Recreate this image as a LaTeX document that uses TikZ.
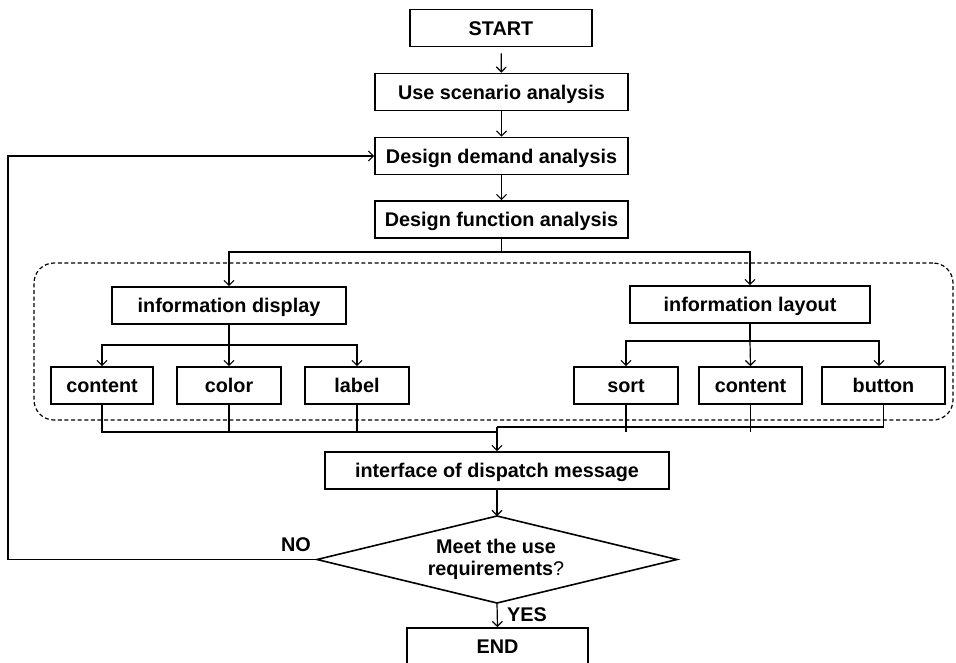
\documentclass[tikz,border=0pt]{standalone}
\usepackage{fontspec}
\setmainfont{Liberation Sans}
\usetikzlibrary{arrows.meta}

\begin{document}
\begin{tikzpicture}[x=1pt,y=-1pt,
  txt/.style={font=\bfseries\fontsize{19.8}{21.5}\selectfont},
  box/.style={txt,draw,line width=1.6pt,rectangle,inner sep=0pt,minimum height=37pt,
    text height=14.2pt,text depth=0pt},
  wire/.style={line width=1.2pt},
  arr/.style={wire,-{Straight Barb[length=5pt,width=10pt]}},
  group/.style={draw,line width=1.2pt,dash pattern=on 4pt off 2.6pt,rounded corners=20pt,inner sep=0pt},
  decision/.style={draw,line width=1.6pt,line join=miter}
]
\clip (0,0) rectangle (956,662);
\fill[white] (0,0) rectangle (956,662);

% dashed frame around the two analysis branches
\node[group,minimum width=919pt,minimum height=157pt] (frame) at (493.5,341.5) {};

% main column
\node[box,minimum width=182pt] (start)  at (501,28)    {START};
\node[box,minimum width=253pt] (scen)   at (501.5,92)  {Use scenario analysis};
\node[box,minimum width=253pt] (demand) at (501.5,156) {Design demand analysis};
\node[box,minimum width=253pt] (func)   at (501.5,219.5) {Design function analysis};

% branches
\node[box,minimum width=234pt] (disp) at (229,305.5) {information display};
\node[box,minimum width=240pt] (lay)  at (750,304.5) {information layout};

\node[box,minimum width=102pt] (dcont) at (102,385.5) {content};
\node[box,minimum width=104pt] (dcol)  at (229,385.5) {color};
\node[box,minimum width=104pt] (dlab)  at (357,385.5) {label};

\node[box,minimum width=104pt] (lsort) at (626,385.5)   {sort};
\node[box,minimum width=103pt] (lcont) at (750.5,385.5) {content};
\node[box,minimum width=123pt] (lbut)  at (883.5,385.5) {button};

\node[box,minimum width=344pt] (iface) at (497,470.5) {interface of dispatch message};

% decision diamond
\coordinate (dtop)   at (497,516);
\coordinate (dright) at (677,559.5);
\coordinate (dbot)   at (497,603);
\coordinate (dleft)  at (317,559.5);
\draw[decision] (dtop) -- (dright) -- (dbot) -- (dleft) -- cycle;
\node[txt,align=center,inner sep=0pt] (dec) at (496,559.5) {Meet the use\\requirements{\mdseries ?}};

\node[box,minimum width=181pt] (end) at (497.5,646.5) {END};

% labels on the decision exits
\node[txt] (no)  at (296,545) {NO};
\node[txt] (yes) at (527,615) {YES};

% connectors of the main column
\draw[arr,shorten <=6pt] (start) -- (scen);
\draw[arr] (scen) -- (demand);
\draw[arr] (demand) -- (func);

% split into the two branches
\coordinate (fsplit) at (501.5,252);
\draw[wire] (func.south) -- (fsplit);
\draw[arr] (fsplit) -| (disp.north);
\draw[arr] (fsplit) -| (lay.north);

\coordinate (dsplit) at (229,345);
\draw[wire] (disp.south) -- (dsplit);
\draw[arr] (dsplit) -| (dcont.north);
\draw[arr] (dsplit) -- (dcol.north);
\draw[arr] (dsplit) -| (dlab.north);

\coordinate (lsplit) at (750,341);
\draw[wire] (lay.south) -- (lsplit);
\draw[arr] (lsplit) -| (lsort.north);
\draw[arr] (lsplit) -- (lcont.north);
\draw[arr] (lsplit) -| ([xshift=-4.5pt]lbut.north);

% gathering into the interface
\coordinate (jleft)  at (497,432);
\coordinate (jright) at (497,427);
\draw[wire] (dcont.south) |- (jleft);
\draw[wire] (dcol.south) -- (229,432);
\draw[wire] (dlab.south) -- (357,432);
\draw[wire] (lsort.south) -- (626,432);
\draw[wire] (lcont.south) -- (750.5,432);
\draw[wire] (lbut.south) |- (jright);
\draw[arr] (jright) -- (iface.north);

\draw[arr] (iface) -- (dtop);
\draw[arr] (dbot) -- (end.north);

% feedback loop
\coordinate (loop) at (8,559.5);
\draw[wire] (dleft) -- (loop);
\draw[arr] (loop) |- (demand.west);
\end{tikzpicture}
\end{document}
